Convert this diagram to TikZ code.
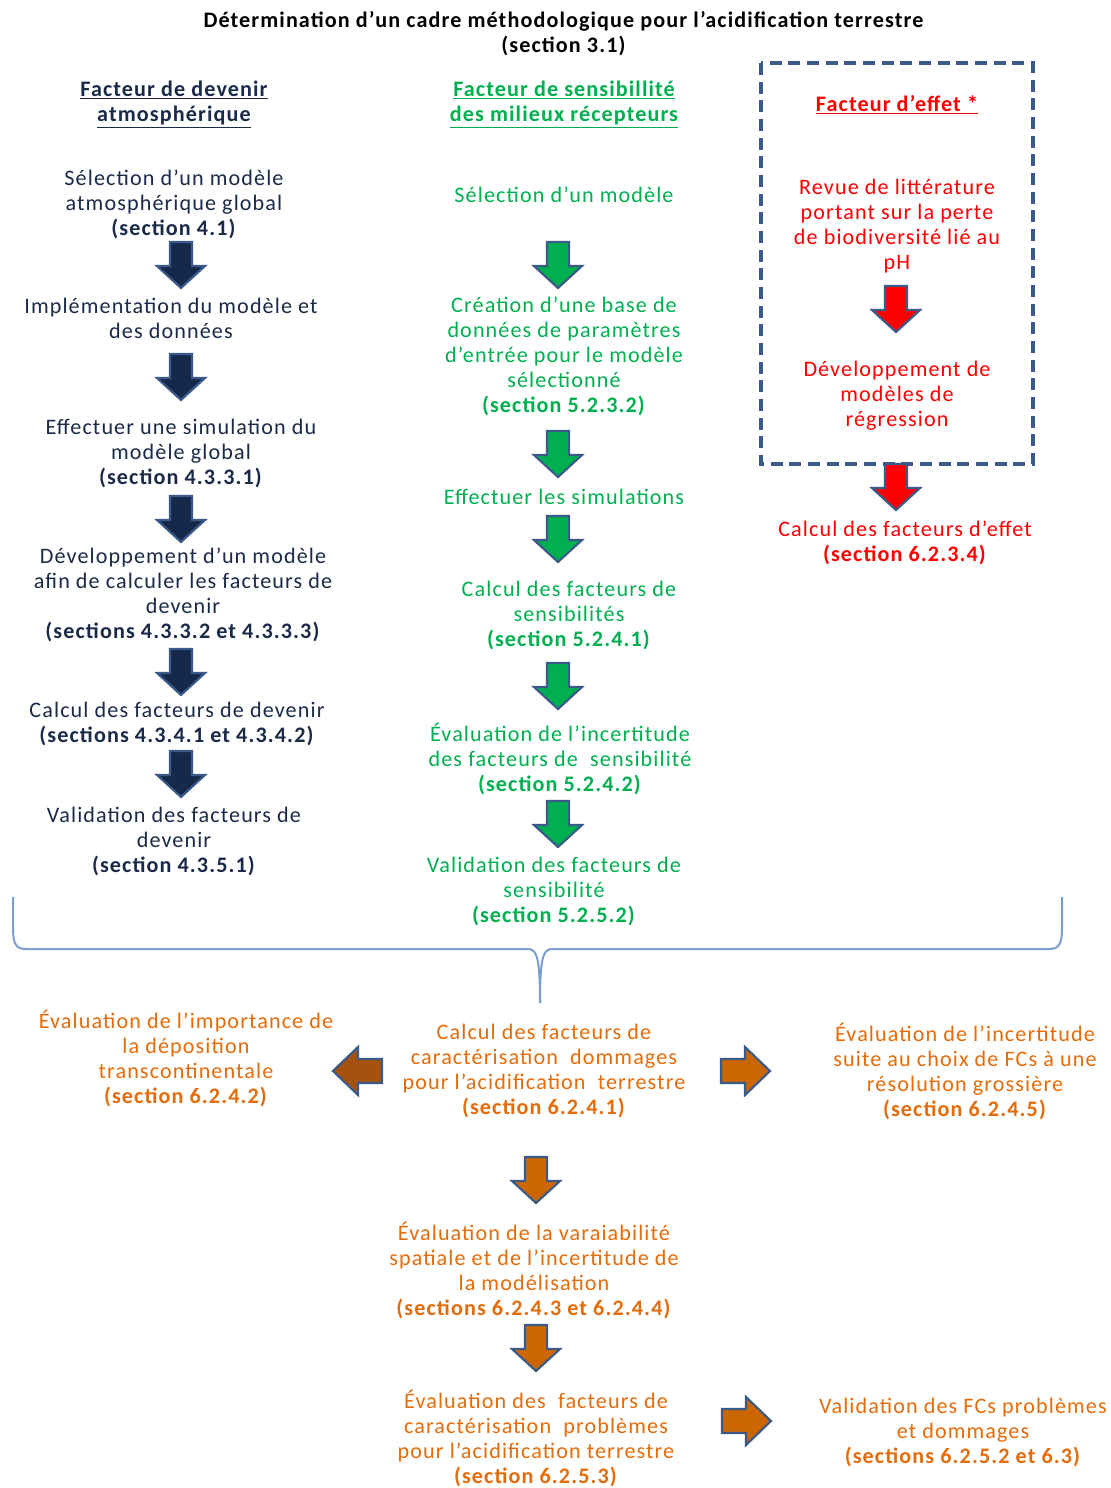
\documentclass[tikz,border=0pt]{standalone}
\usepackage{fontspec}
\setmainfont{Carlito}[LetterSpace=5]
\begin{document}
\begin{tikzpicture}[x=0.75pt,y=-0.75pt]
\definecolor{navy}{HTML}{1A2A48}
\definecolor{navyfill}{HTML}{17294A}
\definecolor{grn}{HTML}{00B050}
\definecolor{rd}{HTML}{FF0000}
\definecolor{org}{HTML}{E46C0A}
\definecolor{orgfill}{HTML}{CC6600}
\definecolor{orgdark}{HTML}{A5520E}
\definecolor{outl}{HTML}{3A5A8A}
\definecolor{brace}{HTML}{7B9FCF}
\tikzset{
  txt/.style={align=center, inner sep=0pt, font=\fontsize{16.6}{18.75}\selectfont},
  navytxt/.style={txt, text=navy},
  grntxt/.style={txt, text=grn},
  rdtxt/.style={txt, text=rd},
  orgtxt/.style={txt, text=org},
  arrowbox/.style={draw=outl, line width=1.6pt, line join=miter},
  pics/dnarrow/.style={code={\draw[arrowbox, fill=#1] (-11,0) -- (11,0) -- (11,24) -- (24,24) -- (0,46) -- (-24,24) -- (-11,24) -- cycle;}},
  pics/rtarrow/.style={code={\draw[arrowbox, fill=#1] (0,-12) -- (24,-12) -- (24,-24) -- (49,0) -- (24,24) -- (24,12) -- (0,12) -- cycle;}},
  pics/lfarrow/.style={code={\draw[arrowbox, fill=#1] (0,-12) -- (-24,-12) -- (-24,-24) -- (-49,0) -- (-24,24) -- (-24,12) -- (0,12) -- cycle;}},
}
\newcommand\ul[1]{\underline{#1}}
\useasboundingbox[fill=white] (0,0) rectangle (1110,1488);

% Title
\node[txt, text=black] (title) at (564,33.5) {\textbf{Détermination d’un cadre méthodologique pour l’acidification terrestre}\\\textbf{(section 3.1)}};

% Column 1
\node[navytxt] (t1) at (174,104.5) {\textbf{\ul{Facteur de devenir}}\\\textbf{\ul{atmosphérique}}};
\node[navytxt] (a1) at (174,204) {Sélection d’un modèle\\atmosphérique global\\\textbf{(section 4.1)}};
\node[navytxt] (a2) at (171,318.5) {Implémentation du modèle et\\des données};
\node[navytxt] (a3) at (181,453.5) {Effectuer une simulation du\\modèle global\\\textbf{(section 4.3.3.1)}};
\node[navytxt] (a4) at (183,595) {Développement d’un modèle\\afin de calculer les facteurs de\\devenir\\\textbf{(sections 4.3.3.2 et 4.3.3.3)}};
\node[navytxt] (a5) at (177,723.5) {Calcul des facteurs de devenir\\\textbf{(sections 4.3.4.1 et 4.3.4.2)}};
\node[navytxt] (a6) at (174,841.5) {Validation des facteurs de\\devenir\\\textbf{(section 4.3.5.1)}};
\foreach \yy in {242,354,496,649,751} \pic at (181,\yy) {dnarrow=navyfill};

% Column 2
\node[grntxt] (t2) at (564,104.5) {\textbf{\ul{Facteur de sensibillité}}\\\textbf{\ul{des milieux récepteurs}}};
\node[grntxt] (b1) at (564,195) {Sélection d’un modèle};
\node[grntxt] (b2) at (564,356.5) {Création d’une base de\\données de paramètres\\d’entrée pour le modèle\\sélectionné\\\textbf{(section 5.2.3.2)}};
\node[grntxt] (b3) at (564,497) {Effectuer les simulations};
\node[grntxt] (b4) at (569,615) {Calcul des facteurs de\\sensibilités\\\textbf{(section 5.2.4.1)}};
\node[grntxt] (b5) at (560,758.5) {Évaluation de l’incertitude\\des facteurs de~ sensibilité\\\textbf{(section 5.2.4.2)}};
\node[grntxt] (b6) at (554,891.5) {Validation des facteurs de\\sensibilité\\\textbf{(section 5.2.5.2)}};
\foreach \yy in {242,431,516,663,801} \pic at (558,\yy) {dnarrow=grn};

% Column 3
\draw[outl, line width=2.3pt, dash pattern=on 9pt off 5pt] (761,63) rectangle (1033,464);
\node[rdtxt] (t3) at (897,105) {\textbf{\ul{Facteur d’effet *}}};
\node[rdtxt] (r1) at (897,226) {Revue de littérature\\portant sur la perte\\de biodiversité lié au\\pH};
\node[rdtxt] (r2) at (897,395.5) {Développement de\\modèles de\\régression};
\node[rdtxt] (r3) at (905,543) {Calcul des facteurs d’effet\\\textbf{(section 6.2.3.4)}};
\pic at (896,286) {dnarrow=rd};
\pic at (896,464) {dnarrow=rd};

% Brace
\coordinate (bl) at (13,897);
\coordinate (br) at (1062,897);
\coordinate (btip) at (540,1003);
\draw[brace, line width=1.5pt] (bl) -- (13,928) .. controls (13,944) and (16,949) .. (26,949) -- (528,949) .. controls (537,949) and (540,958) .. (btip);
\draw[brace, line width=1.5pt] (br) -- (1062,928) .. controls (1062,944) and (1059,949) .. (1049,949) -- (552,949) .. controls (543,949) and (540,958) .. (btip);

% Bottom
\node[orgtxt] (o1) at (186,1058) {Évaluation de l’importance de\\la déposition\\transcontinentale\\\textbf{(section 6.2.4.2)}};
\node[orgtxt] (o2) at (544,1071) {Calcul des facteurs de\\caractérisation~ dommages\\pour l’acidification~ terrestre\\\textbf{(section 6.2.4.1)}};
\node[orgtxt] (o3) at (965,1071) {Évaluation de l’incertitude\\suite au choix de FCs à une\\résolution grossière\\\textbf{(section 6.2.4.5)}};
\node[orgtxt] (o4) at (534,1270.5) {Évaluation de la varaiabilité\\spatiale et de l’incertitude de\\la modélisation\\\textbf{(sections 6.2.4.3 et 6.2.4.4)}};
\node[orgtxt] (o5) at (536,1438) {Évaluation des~ facteurs de\\caractérisation~ problèmes\\pour l’acidification terrestre\\\textbf{(section 6.2.5.3)}};
\node[orgtxt] (o6) at (963,1432.5) {Validation des FCs problèmes\\et dommages\\\textbf{(sections 6.2.5.2 et 6.3)}};
\pic at (382,1071) {lfarrow=orgdark};
\pic at (721,1071) {rtarrow=orgfill};
\pic at (536,1157) {dnarrow=orgfill};
\pic at (536,1325) {dnarrow=orgfill};
\pic at (722,1421) {rtarrow=orgfill};
\end{tikzpicture}
\end{document}
